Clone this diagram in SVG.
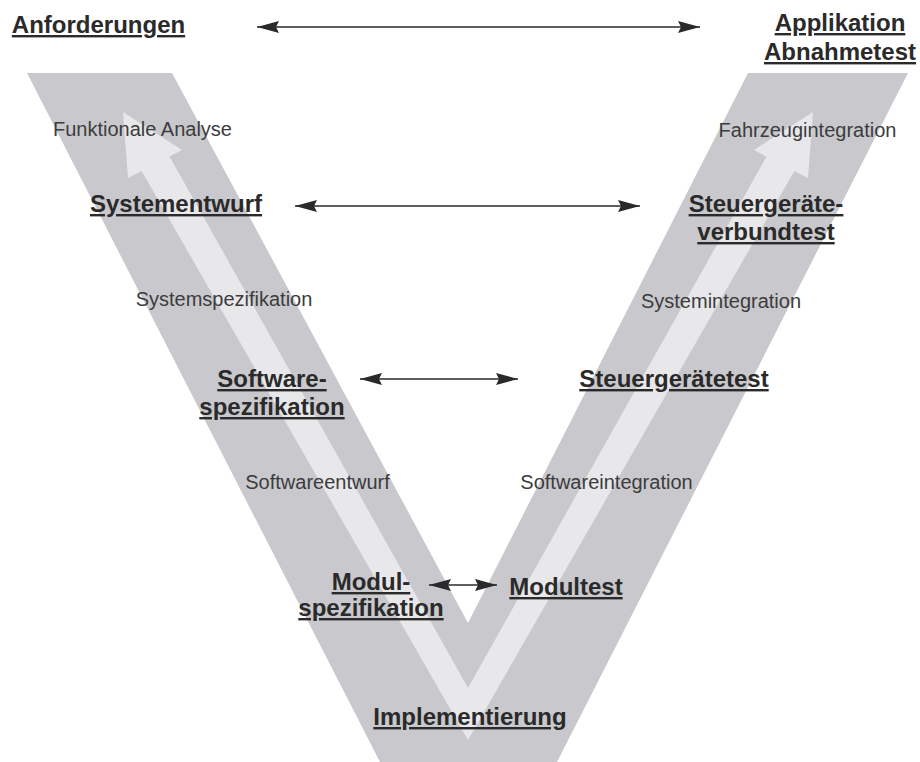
<svg xmlns="http://www.w3.org/2000/svg" width="920" height="762" viewBox="0 0 920 762">
  <style>
    .band { fill: #c9c9cd; }
    .flow { fill: #e8e8ea; }
    .phase { font-family: "Liberation Sans", Arial, sans-serif; font-size: 24px; font-weight: bold; fill: #2a2a2a; text-anchor: middle; text-decoration: underline; }
    .step { font-family: "Liberation Sans", Arial, sans-serif; font-size: 20px; fill: #3c3c3c; text-anchor: middle; }
    .link { stroke: #2a2a2a; stroke-width: 1.5; fill: none; marker-start: url(#head); marker-end: url(#head); }
  </style>
  <defs>
    <marker id="head" viewBox="0 0 22 12" refX="22" refY="6" markerWidth="22" markerHeight="12" markerUnits="userSpaceOnUse" orient="auto-start-reverse">
      <path d="M0,0 L22,6 L0,12 L3,6 Z" fill="#2a2a2a"/>
    </marker>
  </defs>
  <rect width="920" height="762" fill="#ffffff"/>

  <!-- V-shaped background band -->
  <polygon class="band" points="27,73 172,73 468,623 748,73 908,73 557,762 380,762"/>
  <!-- light flow arrow running down the left arm and up the right arm -->
  <polygon class="flow" points="128,178 123,112 182,150 169.5,156.5 468,688 766.5,156.5 754,150 813,112 808,178 794.4,170.9 468,740 141.6,170.9"/>

  <!-- connectors -->
  <g id="connectors">
    <line class="link" x1="257" y1="27" x2="700" y2="27"/>
    <line class="link" x1="295" y1="206" x2="640" y2="206"/>
    <line class="link" x1="360" y1="379" x2="518" y2="379"/>
    <line class="link" x1="429" y1="585" x2="497" y2="585"/>
  </g>

  <!-- phases -->
  <g id="anforderungen"><text class="phase" x="98.5" y="33">Anforderungen</text></g>
  <g id="abnahmetest">
    <text class="phase" x="840" y="31">Applikation</text>
    <text class="phase" x="840" y="60">Abnahmetest</text>
  </g>
  <g id="systementwurf"><text class="phase" x="176" y="212">Systementwurf</text></g>
  <g id="verbundtest">
    <text class="phase" x="766" y="212">Steuergeräte-</text>
    <text class="phase" x="766" y="240">verbundtest</text>
  </g>
  <g id="softwarespezifikation">
    <text class="phase" x="272" y="387">Software-</text>
    <text class="phase" x="272" y="415">spezifikation</text>
  </g>
  <g id="steuergeraetetest"><text class="phase" x="674" y="387">Steuergerätetest</text></g>
  <g id="modulspezifikation">
    <text class="phase" x="371" y="590">Modul-</text>
    <text class="phase" x="371" y="616">spezifikation</text>
  </g>
  <g id="modultest"><text class="phase" x="566" y="595">Modultest</text></g>
  <g id="implementierung"><text class="phase" x="470" y="725">Implementierung</text></g>

  <!-- steps along the arms -->
  <g id="funktionale-analyse"><text class="step" x="142.5" y="136">Funktionale Analyse</text></g>
  <g id="fahrzeugintegration"><text class="step" x="807.5" y="137">Fahrzeugintegration</text></g>
  <g id="systemspezifikation"><text class="step" x="224" y="306">Systemspezifikation</text></g>
  <g id="systemintegration"><text class="step" x="721" y="308">Systemintegration</text></g>
  <g id="softwareentwurf"><text class="step" x="317.5" y="489">Softwareentwurf</text></g>
  <g id="softwareintegration"><text class="step" x="606.5" y="489">Softwareintegration</text></g>
</svg>
